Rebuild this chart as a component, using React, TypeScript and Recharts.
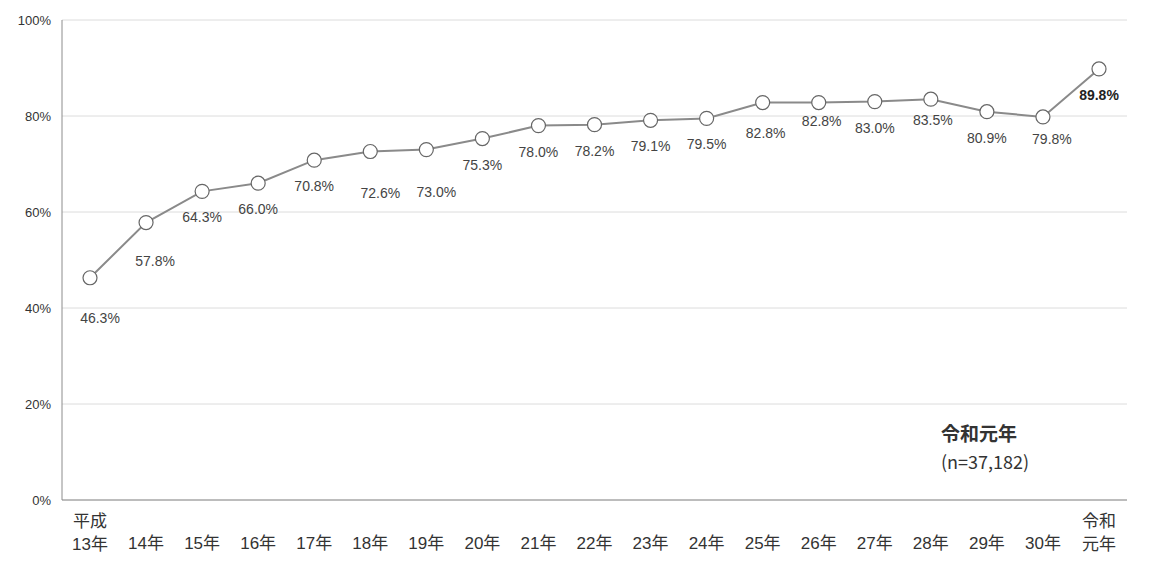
import React from 'react';
import { LineChart, Line, XAxis, YAxis, CartesianGrid, LabelList } from 'recharts';

const categories = [
  '平成\n13年', '14年', '15年', '16年', '17年', '18年', '19年', '20年', '21年', '22年',
  '23年', '24年', '25年', '26年', '27年', '28年', '29年', '30年', '令和\n元年',
];
const rates = [
  46.3, 57.8, 64.3, 66.0, 70.8, 72.6, 73.0, 75.3, 78.0, 78.2,
  79.1, 79.5, 82.8, 82.8, 83.0, 83.5, 80.9, 79.8, 89.8,
];
const yTicks = [0, 20, 40, 60, 80, 100];

// hand-placed label nudges like the original (dx, dy from point)
const labelNudge: Record<number, [number, number]> = {
  0: [10, 40], 1: [9, 38], 5: [10, 41], 6: [10, 42],
  12: [3, 30], 13: [3, 18], 15: [2, 21], 17: [9, 22],
};

const data = categories.map((c, i) => ({ name: c, rate: rates[i] }));

const FONT = '"Liberation Sans", Arial, "Noto Sans CJK JP", sans-serif';

const XTick = (props: any) => {
  const { x, y, payload } = props;
  const lines = String(payload.value).split('\n');
  const baseY = lines.length > 1 ? y + 19 : y + 41;
  return (
    <text x={x} y={baseY} textAnchor="middle" fontSize={17} fill="#333" fontFamily={FONT}>
      {lines.map((l, i) => (
        <tspan key={i} x={x} dy={i === 0 ? 0 : 23}>{l}</tspan>
      ))}
    </text>
  );
};

const RateLabel = (props: any) => {
  const { x, y, value, index } = props;
  const [dx, dy] = labelNudge[index] ?? [0, 26];
  const last = index === rates.length - 1;
  return (
    <text
      x={x + dx}
      y={y + dy + 5}
      textAnchor="middle"
      fontSize={14}
      fontWeight={last ? 700 : 400}
      fill={last ? '#222' : '#444'}
      fontFamily={FONT}
    >
      {value.toFixed(1)}%
    </text>
  );
};

export default function App() {
  return (
    <div style={{ position: 'absolute', left: 0, top: 0, width: 1154, height: 567, background: '#fff' }}>
      <LineChart width={1154} height={567} data={data} margin={{ top: 20, right: 27, bottom: 0, left: 0 }}>
        <CartesianGrid vertical={false} stroke="#dcdcdc" />
        <XAxis
          dataKey="name"
          height={67}
          padding={{ left: 28, right: 28 }}
          axisLine={{ stroke: '#8c8c8c' }}
          tickLine={false}
          tick={<XTick />}
          interval={0}
        />
        <YAxis
          domain={[0, 100]}
          ticks={yTicks}
          width={62}
          axisLine={{ stroke: '#8c8c8c' }}
          tickLine={false}
          tickMargin={5}
          tickFormatter={(v: number) => `${v}%`}
          tick={{ fontSize: 13, fill: '#333', fontFamily: FONT }}
        />
        <YAxis
          yAxisId="right"
          orientation="right"
          width={0}
          tick={false}
          tickLine={false}
          axisLine={{ stroke: '#e4e4e4' }}
        />
        <Line
          dataKey="rate"
          stroke="#8a8a8a"
          strokeWidth={2}
          dot={{ r: 7, fill: '#fff', stroke: '#666', strokeWidth: 1.2 }}
          isAnimationActive={false}
        >
          <LabelList dataKey="rate" content={<RateLabel />} />
        </Line>
      </LineChart>
      <div
        style={{
          position: 'absolute', left: 941, top: 419, color: '#333',
          fontFamily: '"Noto Sans CJK JP", "Noto Sans", sans-serif', lineHeight: '28px',
        }}
      >
        <div style={{ fontSize: 19, fontWeight: 600 }}>令和元年</div>
        <div style={{ fontSize: 18 }}>(n=37,182)</div>
      </div>
    </div>
  );
}
